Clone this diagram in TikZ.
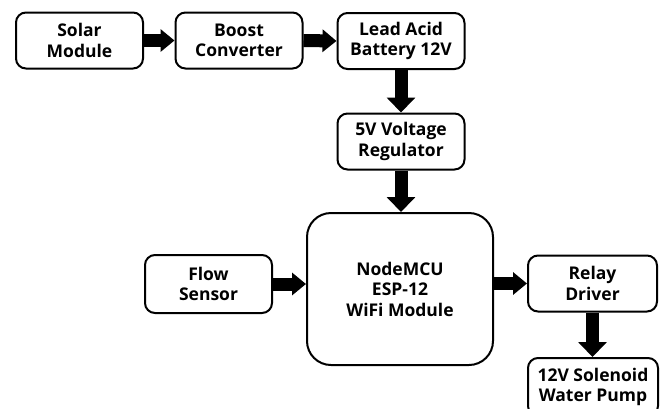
\documentclass[tikz,border=0pt]{standalone}
\usepackage{fontspec}
\setmainfont{Open Sans}
\usetikzlibrary{arrows.meta}
\tikzset{
  blk/.style={draw=black, line width=2pt, rounded corners=10pt, fill=white,
    minimum width=127pt, minimum height=56pt, inner sep=0pt, align=center,
    font=\fontsize{17.5}{20.5}\selectfont\bfseries},
  harrow/.style={line width=13pt, -{Triangle[width=22pt,length=14pt]}},
  varrow/.style={line width=13pt, -{Triangle[width=28pt,length=15pt]}}
}
\begin{document}
\begin{tikzpicture}[x=1pt,y=-1pt]
\useasboundingbox (0,0) rectangle (664,408);
\fill[white] (0,0) rectangle (664,408);
\clip (0,0) rectangle (664,408);
\node[blk] (solar) at (79.5,40.5) {Solar\\Module};
\node[blk] (boost) at (239,40.5) {Boost\\Converter};
\node[blk] (lead) at (401,41) {Lead Acid\\Battery 12V};
\node[blk] (reg) at (401,141.5) {5V Voltage\\Regulator};
\node[blk, minimum width=186pt, minimum height=152pt, rounded corners=24pt] (mcu) at (400,289) {NodeMCU\\ESP-12\\WiFi Module};
\node[blk, minimum height=58pt] (flow) at (208.5,284) {Flow\\Sensor};
\node[blk, minimum width=129pt] (relay) at (592.5,283.5) {Relay\\Driver};
\node[blk, minimum width=130pt, minimum height=58pt, anchor=north] (pump) at (593,357) {12V Solenoid\\Water Pump};
\draw[harrow] (solar.east) -- (boost.west);
\draw[harrow] (boost.east) -- (lead.west);
\draw[varrow] (lead.south) -- (reg.north);
\draw[varrow] (reg.south) -- (reg.south |- mcu.north);
\draw[harrow] (flow.east) -- (flow.east -| mcu.west);
\draw[harrow] (mcu.east |- relay.west) -- (relay.west);
\draw[varrow] (relay.south) -- (relay.south |- pump.north);
\end{tikzpicture}
\end{document}
